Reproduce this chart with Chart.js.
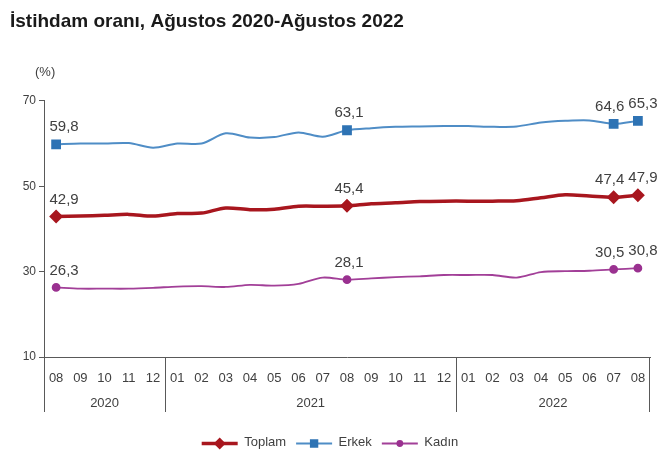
<!DOCTYPE html>
<html lang="tr">
<head>
<meta charset="utf-8">
<title>İstihdam oranı</title>
<script src="https://cdn.jsdelivr.net/npm/chart.js@4.4.1/dist/chart.umd.min.js"></script>
<style>
  html, body { margin: 0; padding: 0; background: #fff; }
  #wrap { width: 661px; height: 459px; position: relative; }
</style>
</head>
<body>
<div id="wrap"><canvas id="chart"></canvas></div>
<script>
const months = ["08", "09", "10", "11", "12",
  "01", "02", "03", "04", "05", "06", "07", "08", "09", "10", "11", "12",
  "01", "02", "03", "04", "05", "06", "07", "08"];
const yearLabels = ["2020", "2021", "2022"];
const yearFirst = [0, 5, 17];
const yearLast = [4, 16, 24];

const toplam = [42.9, 43.0, 43.2, 43.4, 43.0, 43.6, 43.7, 44.9, 44.5, 44.6, 45.3, 45.3, 45.4,
  45.9, 46.1, 46.4, 46.5, 46.5, 46.5, 46.6, 47.3, 48.0, 47.7, 47.4, 47.9];
const erkek = [59.8, 60.0, 60.0, 60.1, 59.0, 60.0, 60.0, 62.4, 61.4, 61.5, 62.6, 61.6, 63.1,
  63.6, 63.9, 64.0, 64.1, 64.1, 63.9, 64.0, 64.9, 65.3, 65.4, 64.6, 65.3];
const kadin = [26.3, 26.0, 26.0, 26.0, 26.2, 26.5, 26.6, 26.4, 26.9, 26.7, 27.1, 28.6, 28.1,
  28.4, 28.7, 28.9, 29.2, 29.2, 29.2, 28.6, 29.9, 30.1, 30.2, 30.5, 30.8];

// noktaların ve etiketlerin gösterildiği aylar
const labelled = [0, 12, 23, 24];
const yTicks = [10, 30, 50, 70];

const FONT = "'Liberation Sans', Arial, sans-serif";
const TEXT = "#404040";
const AXIS = "#595959";

function fmt(v) {
  return v.toFixed(1).replace(".", ",");
}

function markRadius(r) {
  return (ctx) => (labelled.includes(ctx.dataIndex) ? r : 0);
}

// değer etiketleri
const labelShift = [8, 2, -4, 5];
const valueLabels = {
  id: "valueLabels",
  afterDatasetsDraw(chart) {
    const ctx = chart.ctx;
    ctx.save();
    ctx.font = "15px " + FONT;
    ctx.fillStyle = TEXT;
    ctx.textAlign = "center";
    ctx.textBaseline = "middle";
    chart.data.datasets.forEach((ds, i) => {
      const meta = chart.getDatasetMeta(i);
      labelled.forEach((idx, k) => {
        const pt = meta.data[idx];
        ctx.fillText(fmt(ds.data[idx]), pt.x + labelShift[k], pt.y - 17);
      });
    });
    ctx.restore();
  }
};

// yıl grupları ve (%) başlığı
const yearAxis = {
  id: "yearAxis",
  afterDraw(chart) {
    const ctx = chart.ctx;
    const xs = chart.scales.x;
    const area = chart.chartArea;
    ctx.save();
    ctx.strokeStyle = AXIS;
    ctx.lineWidth = 1;
    ctx.fillStyle = TEXT;
    ctx.font = "13px " + FONT;
    ctx.textAlign = "center";
    ctx.textBaseline = "middle";
    yearLabels.forEach((label, i) => {
      const x0 = xs.getPixelForValue(yearFirst[i] - 0.5);
      const x1 = xs.getPixelForValue(yearLast[i] + 0.5);
      ctx.beginPath();
      ctx.moveTo(Math.round(x0) + 0.5, area.bottom);
      ctx.lineTo(Math.round(x0) + 0.5, area.bottom + 55);
      if (i === yearLabels.length - 1) {
        ctx.moveTo(Math.round(x1) - 0.5, area.bottom);
        ctx.lineTo(Math.round(x1) - 0.5, area.bottom + 55);
      }
      ctx.stroke();
      ctx.fillText(label, (x0 + x1) / 2, area.bottom + 46);
    });
    ctx.textAlign = "left";
    ctx.fillText("(%)", area.left - 9, area.top - 28);
    ctx.restore();
  }
};

// lejantta çizgi + işaret
const legendMarks = {
  id: "legendMarks",
  afterDraw(chart) {
    const ctx = chart.ctx;
    const boxes = chart.legend.legendHitBoxes;
    ctx.save();
    boxes.forEach((box, i) => {
      const ds = chart.data.datasets[i];
      const y = box.top + box.height / 2 + 1;
      ctx.strokeStyle = ds.borderColor;
      ctx.lineWidth = ds.borderWidth;
      ctx.beginPath();
      ctx.moveTo(box.left, y);
      ctx.lineTo(box.left + 36, y);
      ctx.stroke();
      ctx.fillStyle = ds.pointBackgroundColor;
      ctx.strokeStyle = ds.pointBorderColor;
      Chart.helpers.drawPoint(ctx, {
        pointStyle: ds.pointStyle, radius: ds.legendRadius, rotation: 0, borderWidth: 1
      }, box.left + 18, y);
    });
    ctx.restore();
  }
};

const datasets = [
  {
    label: "Toplam", data: toplam,
    borderColor: "#A8161E", borderWidth: 3.5,
    pointStyle: "rectRot", pointBackgroundColor: "#A8161E", pointBorderColor: "#A8161E",
    pointRadius: markRadius(4.5), legendRadius: 3.5
  },
  {
    label: "Erkek", data: erkek,
    borderColor: "#4F8DC6", borderWidth: 2,
    pointStyle: "rect", pointBackgroundColor: "#2E73B4", pointBorderColor: "#2E73B4",
    pointRadius: markRadius(5.5), legendRadius: 4.5
  },
  {
    label: "Kadın", data: kadin,
    borderColor: "#A23F98", borderWidth: 1.8,
    pointStyle: "circle", pointBackgroundColor: "#9A3190", pointBorderColor: "#9A3190",
    pointRadius: markRadius(3.5), legendRadius: 2.5
  }
];

new Chart(document.getElementById("chart"), {
  type: "line",
  data: { labels: months, datasets },
  plugins: [valueLabels, yearAxis, legendMarks],
  options: {
    responsive: true,
    maintainAspectRatio: false,
    animation: false,
    layout: { padding: { left: 10, right: 11, top: 0, bottom: 0 } },
    elements: { line: { tension: 0.3 }, point: { borderWidth: 1 } },
    plugins: {
      tooltip: { enabled: false },
      title: {
        display: true,
        text: "İstihdam oranı, Ağustos 2020-Ağustos 2022",
        align: "start",
        color: "#1a1a1a",
        font: { family: FONT, size: 19, weight: "bold" },
        padding: { top: 10, bottom: 68 }
      },
      legend: {
        position: "bottom",
        labels: {
          color: TEXT,
          font: { family: FONT, size: 13 },
          boxWidth: 36,
          boxHeight: 13,
          padding: 10,
          generateLabels(chart) {
            return Chart.defaults.plugins.legend.labels.generateLabels(chart).map((item) => ({
              ...item, fillStyle: "rgba(0,0,0,0)", strokeStyle: "rgba(0,0,0,0)", lineWidth: 0
            }));
          }
        }
      }
    },
    scales: {
      x: {
        offset: true,
        grid: { display: false, drawTicks: false },
        border: { display: true, color: AXIS },
        ticks: { color: TEXT, font: { family: FONT, size: 13 }, padding: 14, maxRotation: 0, autoSkip: false },
        afterFit(scale) { scale.height = 69; }
      },
      y: {
        min: 10,
        max: 70,
        grid: { display: true, drawOnChartArea: false, tickLength: 5, color: AXIS },
        border: { display: true, color: AXIS },
        ticks: { color: TEXT, font: { family: FONT, size: 12 }, padding: 3 },
        afterBuildTicks(scale) { scale.ticks = yTicks.map((v) => ({ value: v })); },
        afterFit(scale) { scale.width = 34; }
      }
    }
  }
});
</script>
</body>
</html>
